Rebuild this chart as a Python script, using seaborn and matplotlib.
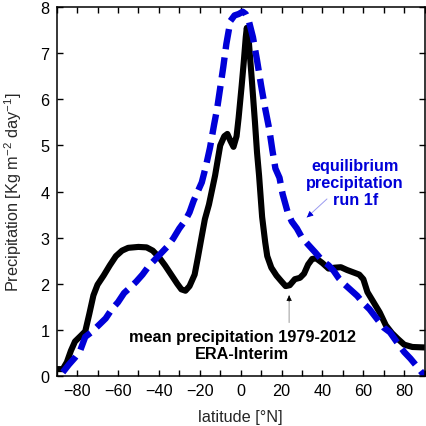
import numpy as np
import pandas as pd
import matplotlib
matplotlib.use("Agg")
import matplotlib.pyplot as plt
import seaborn as sns

# ERA-Interim mean precipitation 1979-2012 (black)
lat_era = [-90, -87, -85, -83, -81, -78, -76, -74, -72, -70, -67, -64, -61, -58, -55, -50,
           -46, -43, -40, -37, -34, -31, -29, -27, -25, -22.5, -21, -19, -17.5, -15.5, -12.5,
           -10, -8, -6.5, -5, -3.5, -2, -1, 0.5, 1.5, 2.5, 3, 4, 5.5, 7, 8, 9, 10.5, 12, 13,
           15, 17.5, 20, 22, 24, 26.5, 29, 31, 33, 35, 37, 40, 43, 46, 49, 52, 55, 58, 60,
           62, 65, 68, 71, 74, 77, 80, 84, 90]
pr_era = [0.15, 0.15, 0.3, 0.55, 0.75, 0.88, 0.97, 1.35, 1.75, 1.98, 2.18, 2.4, 2.6, 2.72, 2.78, 2.8,
          2.79, 2.72, 2.58, 2.4, 2.2, 2.0, 1.88, 1.85, 1.95, 2.2, 2.55, 3.04, 3.4, 3.72, 4.35,
          5.0, 5.2, 5.25, 5.1, 4.97, 5.2, 5.6, 6.3, 6.8, 7.35, 7.55, 7.25, 6.4, 5.5, 4.85, 4.35, 3.45, 2.9, 2.6,
          2.35, 2.18, 2.05, 1.95, 1.97, 2.1, 2.13, 2.22, 2.42, 2.54, 2.55, 2.45, 2.33, 2.35, 2.36, 2.3, 2.25, 2.2, 2.1,
          1.82, 1.6, 1.38, 1.1, 0.93, 0.8, 0.68, 0.63, 0.62]

# equilibrium precipitation run 1f (blue dashed)
lat_eq = [-87, -84, -81, -78.5, -76, -73, -69, -66, -63, -60, -57, -54, -51, -48, -45, -42,
          -39, -36, -33, -30, -27, -25, -23, -21, -19, -17, -15, -13, -11.5, -10, -8.5, -7,
          -5, -3, -1, 1, 2.5, 4, 6, 8, 10, 12, 14, 15.5, 17, 19, 20.5, 23, 25, 27.5, 30, 33,
          36.5, 40, 43, 45.5, 48, 51, 54, 57, 60, 63, 66.5, 70, 73, 76.5, 80, 83, 86, 90]
pr_eq = [0.08, 0.25, 0.4, 0.55, 0.85, 0.95, 1.12, 1.25, 1.45, 1.6, 1.8, 1.92, 2.05, 2.2, 2.38, 2.52,
         2.66, 2.8, 2.98, 3.2, 3.38, 3.55, 3.8, 4.0, 4.2, 4.55, 4.95, 5.45, 5.8, 6.25, 6.7, 7.2,
         7.7, 7.82, 7.85, 7.9, 7.85, 7.7, 7.35, 6.85, 6.3, 5.8, 5.35, 4.9, 4.5, 4.3, 3.95, 3.55, 3.35, 3.2, 3.0, 2.85,
         2.68, 2.5, 2.4, 2.28, 2.12, 1.98, 1.86, 1.74, 1.58, 1.45, 1.25, 1.05, 0.95, 0.73, 0.52, 0.38, 0.22, 0.0]

sns.set_style("ticks")
plt.rcParams["font.family"] = ["Liberation Sans", "DejaVu Sans"]
plt.rcParams["mathtext.fontset"] = "custom"
plt.rcParams["mathtext.rm"] = "Liberation Sans"
plt.rcParams["mathtext.it"] = "Liberation Sans:italic"
plt.rcParams["mathtext.bf"] = "Liberation Sans:bold"

FS = 11.7
BLUE = "#0000d8"

fig = plt.figure(figsize=(4.27, 4.27), dpi=100)
ax = fig.add_axes([0.1326, 0.117, 0.862, 0.864])

df_era = pd.DataFrame({"lat": lat_era, "pr": pr_era})
df_eq = pd.DataFrame({"lat": lat_eq, "pr": pr_eq})

sns.lineplot(data=df_era, x="lat", y="pr", ax=ax, color="black", linewidth=4.4,
             solid_joinstyle="round", solid_capstyle="butt")
sns.lineplot(data=df_eq, x="lat", y="pr", ax=ax, color=BLUE, linewidth=4.6)
ax.lines[-1].set_dashes((3.2, 1.3))
ax.lines[-1].set_dash_capstyle("butt")

ax.set_xlim(-90, 90)
ax.set_ylim(0, 8)
ax.set_xticks(np.arange(-80, 81, 20))
ax.set_xticks(np.arange(-90, 91, 10), minor=True)
ax.set_yticks(np.arange(0, 9, 1))
ax.tick_params(which="both", direction="in", top=True, right=True, length=4.5, width=1,
               labelsize=FS, color="black", labelcolor="black")
ax.tick_params(axis="x", pad=5)
ax.tick_params(axis="y", pad=5)
for s in ax.spines.values():
    s.set_linewidth(1.1)
    s.set_color("black")

ax.set_xlabel("latitude [°N]", fontsize=FS, labelpad=8)
ax.set_ylabel("Precipitation [Kg m$^{-2}$ day$^{-1}$]", fontsize=FS, labelpad=12)

ax.text(56, 4.2, "equilibrium\nprecipitation\nrun 1f", color=BLUE, fontsize=FS,
        fontweight="bold", ha="center", va="center", linespacing=1.15)
# thin pale shaft + dark head, as in the original
ax.annotate("", xy=(32.4, 3.44), xytext=(42.2, 3.84),
            arrowprops=dict(arrowstyle="-", color="#9a9af0", lw=0.7, shrinkA=0, shrinkB=0))
ax.annotate("", xy=(32.4, 3.44), xytext=(34.4, 3.52),
            arrowprops=dict(arrowstyle="-|>", color=BLUE, lw=0.6,
                            mutation_scale=9, shrinkA=0, shrinkB=0))
ax.text(0.8, 0.665, "mean precipitation 1979-2012\nERA-Interim", color="black", fontsize=FS,
        fontweight="bold", ha="center", va="center", linespacing=1.15)
ax.annotate("", xy=(23.7, 1.75), xytext=(23.7, 1.16),
            arrowprops=dict(arrowstyle="-", color="#999999", lw=0.7, shrinkA=0, shrinkB=0))
ax.annotate("", xy=(23.7, 1.75), xytext=(23.7, 1.62),
            arrowprops=dict(arrowstyle="-|>", color="black", lw=0.5,
                            mutation_scale=8, shrinkA=0, shrinkB=0))

fig.savefig("out.png", dpi=100)
